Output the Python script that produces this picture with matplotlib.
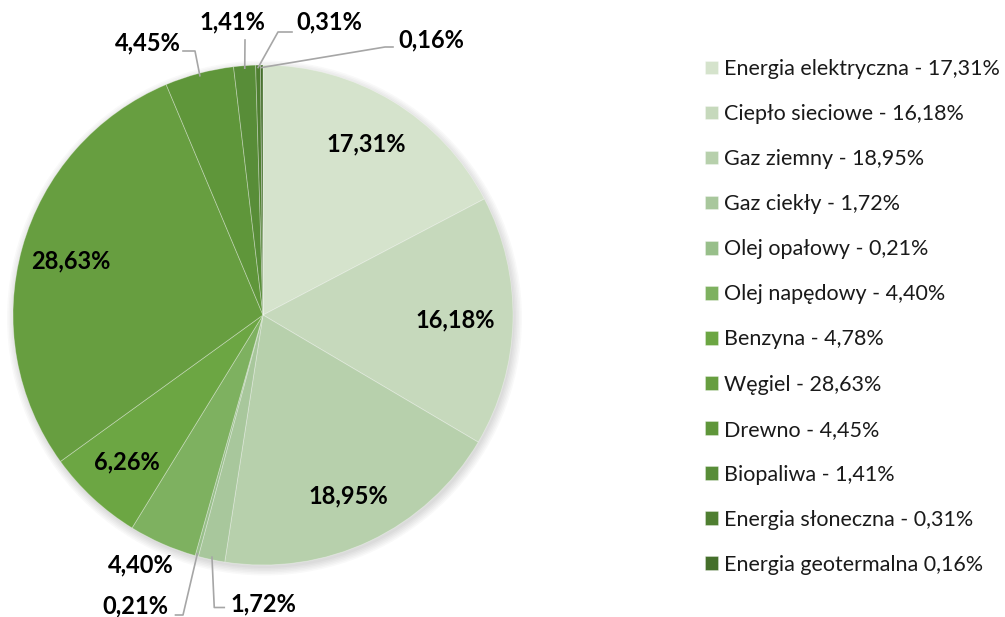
import numpy as np
import matplotlib.pyplot as plt
from matplotlib.patches import Circle

plt.rcParams['font.family'] = ['Lato', 'DejaVu Sans']

# data
legend_labels = ['Energia elektryczna - 17,31%', 'Ciepło sieciowe - 16,18%',
                 'Gaz ziemny - 18,95%', 'Gaz ciekły - 1,72%',
                 'Olej opałowy - 0,21%', 'Olej napędowy - 4,40%',
                 'Benzyna - 4,78%', 'Węgiel - 28,63%', 'Drewno - 4,45%',
                 'Biopaliwa - 1,41%', 'Energia słoneczna - 0,31%',
                 'Energia geotermalna 0,16%']
shares = [17.31, 16.18, 18.95, 1.72, 0.21, 4.40, 6.26, 28.63, 4.45, 1.41, 0.31, 0.16]
colors = ['#D5E3CC', '#C6D9BC', '#B7D0AC', '#A8C79C', '#98BF8A', '#7EB160',
          '#6CA643', '#679E40', '#5F963A', '#588D38', '#4F7F31', '#456F2B']

# outside labels: (text x, text y, ha, leader elbow x, elbow y, leader end x)
outside = {
    3: (-0.13, -1.155, 'left', -0.195, -1.17, -0.155),
    4: (-0.38, -1.165, 'right', -0.32, -1.20, -0.35),
    5: (-0.49, -1.00, 'center', None, None, None),
    8: (-0.33, 1.09, 'right', -0.272, 1.056, -0.32),
    9: (-0.124, 1.172, 'center', -0.072, 1.10, -0.072),
    10: (0.135, 1.172, 'left', 0.06, 1.132, 0.116),
    11: (0.54, 1.10, 'left', 0.488, 1.072, 0.52),
}

def fmt(v):
    return f'{v:.2f}%'.replace('.', ',')

fig = plt.figure(figsize=(10.05, 6.17), dpi=100)
ax = fig.add_axes([13 / 1005, 52 / 617, 500 / 1005, 500 / 617])

# soft shadow behind the pie
for k in range(6):
    ax.add_patch(Circle((0.006, -0.012), 1.0 + 0.006 * k, color='black',
                        alpha=0.025, lw=0, zorder=0, clip_on=False))

wedges, _ = ax.pie(shares, colors=colors, startangle=90, counterclock=False,
                   radius=1, wedgeprops=dict(edgecolor=(1, 1, 1, 0.35), linewidth=0.6))
ax.set_xlim(-1, 1)
ax.set_ylim(-1, 1)

for i, (w, v) in enumerate(zip(wedges, shares)):
    mid = np.deg2rad((w.theta1 + w.theta2) / 2)
    if i not in outside:
        r = 0.8 if i != 1 else 0.77
        ax.text(r * np.cos(mid), r * np.sin(mid), fmt(v), ha='center', va='center',
                fontsize=17, fontweight='bold', color='black')
        continue
    tx, ty, ha, ex, ey, lx = outside[i]
    ax.text(tx, ty, fmt(v), ha=ha, va='center', fontsize=17, fontweight='bold',
            color='black', clip_on=False)
    if ex is not None:
        rx, ry = 0.99 * np.cos(mid), 0.99 * np.sin(mid)
        ax.plot([rx, ex, lx], [ry, ey, ey], color='#A6A6A6', lw=1.2, clip_on=False)

leg = ax.legend(wedges, legend_labels, loc='upper left',
                bbox_to_anchor=(705 / 1005, 1 - 59 / 617), bbox_transform=fig.transFigure,
                frameon=False, fontsize=15.5, handlelength=0.6, handleheight=0.6,
                handletextpad=0.3, labelspacing=1.165, borderaxespad=0, borderpad=0)
for t in leg.get_texts():
    t.set_color('#1a1a1a')

fig.savefig('out.png', dpi=100)
